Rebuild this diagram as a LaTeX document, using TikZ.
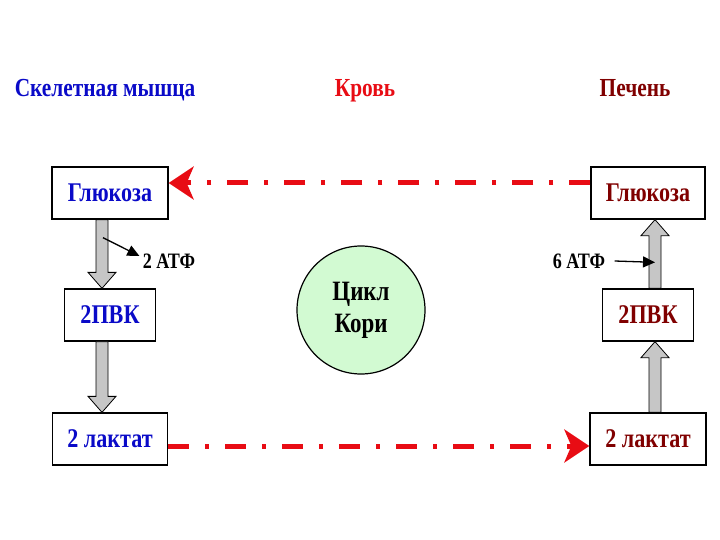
\documentclass[tikz,border=0pt]{standalone}
\usepackage{fontspec}
\newfontfamily\rufont{Liberation Serif}[FakeStretch=0.82]
\usetikzlibrary{arrows.meta,calc}

\definecolor{muscleblue}{RGB}{10,10,200}
\definecolor{bloodred}{RGB}{232,12,20}
\definecolor{liverred}{RGB}{128,0,0}
\definecolor{corigreen}{RGB}{210,250,210}

\tikzset{
  title/.style={anchor=base, font=\rufont\bfseries\fontsize{26}{30}\selectfont},
  box/.style={draw, line width=1.3pt, fill=white, minimum height=52, inner sep=0,
    font=\rufont\bfseries\fontsize{27}{30}\selectfont},
  atp/.style={font=\rufont\bfseries\fontsize{22}{24}\selectfont},
  blockarr/.style={fill=gray!45, draw=black, line width=0.8pt},
  redarr/.style={draw=bloodred, line width=5pt,
    dash pattern=on 21pt off 16pt on 4pt off 16pt,
    -{Stealth[length=25pt,width=33pt,inset=7pt]}},
  smallarr/.style={line width=1.3pt, -{Triangle[length=12pt,width=11pt]}}
}

% gray block arrow from #1 to #2
\newcommand\blockarrow[2]{%
  \coordinate (ba-s) at (#1);
  \coordinate (ba-e) at (#2);
  \coordinate (ba-b) at ($(ba-e)!16pt!(ba-s)$);
  \filldraw[blockarr] ($(ba-s)!6pt!90:(ba-e)$) -- ($(ba-b)!6pt!-90:(ba-s)$)
    -- ($(ba-b)!14pt!-90:(ba-s)$) -- (ba-e) -- ($(ba-b)!14pt!90:(ba-s)$)
    -- ($(ba-b)!6pt!90:(ba-s)$) -- ($(ba-s)!6pt!-90:(ba-e)$) -- cycle;}

\begin{document}
\begin{tikzpicture}[x=1pt,y=-1pt]
\useasboundingbox (0,0) rectangle (720,540);

% titles
\node[title, text=muscleblue] (muscle) at (105,97) {Скелетная мышца};
\node[title, text=bloodred] (blood) at (365,97) {Кровь};
\node[title, text=liverred] (liver) at (635,97) {Печень};

% muscle
\node[box, text=muscleblue, minimum width=116] (glu1) at (110,193) {Глюкоза};
\node[box, text=muscleblue, minimum width=91] (pvk1) at (110,315) {2ПВК};
\node[box, text=muscleblue, minimum width=115] (lak1) at (110,439) {2 лактат};

% liver
\node[box, text=liverred, minimum width=114] (glu2) at (648,193) {Глюкоза};
\node[box, text=liverred, minimum width=91] (pvk2) at (648,315) {2ПВК};
\node[box, text=liverred, minimum width=116] (lak2) at (648,439) {2 лактат};

% cycle
\node[circle, draw, line width=1.2pt, fill=corigreen, minimum size=128, inner sep=0,
  align=center, font=\rufont\bfseries\fontsize{28}{32}\selectfont] (cori) at (361,310) {Цикл\\Кори};

\blockarrow{[xshift=-8]glu1.south}{[xshift=-8]pvk1.north}
\blockarrow{[xshift=-8]pvk1.south}{[xshift=-8]lak1.north}
\blockarrow{[xshift=7]lak2.north}{[xshift=7]pvk2.south}
\blockarrow{[xshift=7]pvk2.north}{[xshift=7]glu2.south}

\node[atp] (atp1) at (169,261) {2 АТФ};
\node[atp] (atp2) at (579,261) {6 АТФ};
\draw[smallarr] ([xshift=-7,yshift=-18]glu1.south) -- ([yshift=5]atp1.west);
\draw[smallarr] ([xshift=6]atp2.east) -- ([xshift=7,yshift=26]pvk2.north);

\draw[redarr] ([yshift=10]glu2.west) -- ([yshift=10]glu1.east);
\draw[redarr] ([yshift=-7]lak1.east) -- ([yshift=-7]lak2.west);
\end{tikzpicture}
\end{document}
